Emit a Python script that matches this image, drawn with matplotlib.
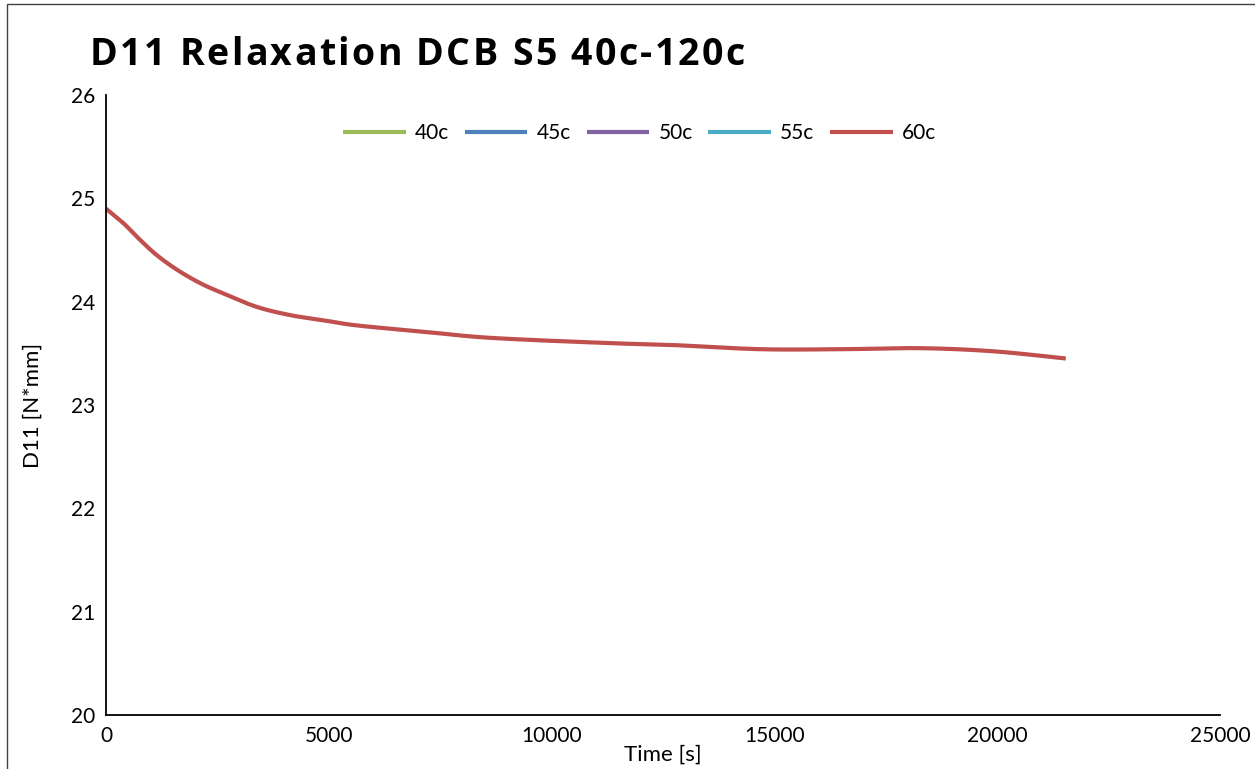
import matplotlib
matplotlib.use("Agg")
import numpy as np
import matplotlib.pyplot as plt
from matplotlib.patches import Rectangle

plt.rcParams['font.family'] = ['Lato', 'DejaVu Sans']

# Series data: time [s] and D11 [N*mm]
series_names = ["40c", "45c", "50c", "55c", "60c"]
series_colors = ["#9BBB59", "#4F81BD", "#8064A2", "#4BACC6", "#C0504D"]

time_40c, d11_40c = [], []
time_45c, d11_45c = [], []
time_50c, d11_50c = [], []
time_55c, d11_55c = [], []

time_60c = [0, 390, 760, 1140, 1590, 2110, 2630, 3380, 4130, 4880, 5630,
            7120, 8620, 11230, 12730, 14680, 16540, 18270, 19910, 21540]
d11_60c = [24.90, 24.76, 24.60, 24.45, 24.31, 24.18, 24.08, 23.95, 23.87, 23.82, 23.77,
           23.71, 23.65, 23.60, 23.58, 23.54, 23.54, 23.55, 23.52, 23.45]

times = [time_40c, time_45c, time_50c, time_55c, time_60c]
values = [d11_40c, d11_45c, d11_50c, d11_55c, d11_60c]

x_ticks = [0, 5000, 10000, 15000, 20000, 25000]
y_ticks = [20, 21, 22, 23, 24, 25, 26]

title = "D11 Relaxation DCB S5 40c-120c"


def smooth_line(x, y, n=20):
    """Catmull-Rom curve through the given points (smoothed line style)."""
    x = np.asarray(x, float)
    y = np.asarray(y, float)
    if len(x) < 3:
        return x, y
    px = np.concatenate([[x[0]], x, [x[-1]]])
    py = np.concatenate([[y[0]], y, [y[-1]]])
    xs, ys = [], []
    s = np.linspace(0, 1, n, endpoint=False)
    for i in range(1, len(px) - 2):
        for arr, out in ((px, xs), (py, ys)):
            p0, p1, p2, p3 = arr[i - 1], arr[i], arr[i + 1], arr[i + 2]
            out.extend(0.5 * ((2 * p1) + (-p0 + p2) * s
                              + (2 * p0 - 5 * p1 + 4 * p2 - p3) * s ** 2
                              + (-p0 + 3 * p1 - 3 * p2 + p3) * s ** 3))
    xs.append(x[-1])
    ys.append(y[-1])
    return np.array(xs), np.array(ys)


def spaced_text(fig, text, x_px, y_px, target_width_px, **kw):
    """Draw text with uniform letter spacing so it spans target_width_px."""
    renderer = fig.canvas.get_renderer()
    W, H = fig.bbox.width, fig.bbox.height

    def width(s):
        if not s:
            return 0.0
        t = fig.text(0, 0, s.replace(" ", "\u00a0"), **kw)
        w = t.get_window_extent(renderer).width
        t.remove()
        return w

    natural = width(text)
    gap = (target_width_px - natural) / (len(text) - 1)
    for i, ch in enumerate(text):
        if ch == " ":
            continue
        x = x_px + width(text[:i].replace(" ", "\u00a0")) + i * gap
        fig.text(x / W, 1 - y_px / H, ch, ha='left', va='center', **kw)


fig = plt.figure(figsize=(12.55, 7.69), dpi=100)
W, H = 1255, 769
ax = fig.add_axes([106 / W, 54 / H, (1220 - 106) / W, (715 - 95) / H])

for name, color, t, v in zip(series_names, series_colors, times, values):
    sx, sy = smooth_line(t, v)
    ax.plot(sx, sy, color=color, lw=3.0, label=name, solid_capstyle='butt')

ax.set_xlim(0, 25000)
ax.set_ylim(20, 26)
ax.set_xticks(x_ticks)
ax.set_yticks(y_ticks)
ax.tick_params(axis='x', length=0, labelsize=15, colors='black', pad=8)
ax.tick_params(axis='y', length=0, labelsize=15, colors='black', pad=8)
for s in ['top', 'right']:
    ax.spines[s].set_visible(False)
for s in ['left', 'bottom']:
    ax.spines[s].set_linewidth(1.3)
    ax.spines[s].set_color('black')

ax.set_xlabel("Time [s]", fontsize=16, labelpad=-1)
ax.set_ylabel("D11 [N*mm]", fontsize=16, labelpad=20)

leg = ax.legend(loc='upper center', bbox_to_anchor=(0.479, 0.985), ncol=5, frameon=False,
                fontsize=15, handlelength=3.0, columnspacing=0.75, handletextpad=0.45)

spaced_text(fig, title, 90, 55, 655, fontsize=27, fontweight='bold',
            family=['Open Sans', 'DejaVu Sans'])

# Outer chart frame
fig.patches.append(Rectangle((7 / W, -0.1), 1.2, 1.1 - 4 / H, transform=fig.transFigure,
                             fill=False, edgecolor='#404040', lw=1.0))

fig.savefig("out.png", dpi=100)
